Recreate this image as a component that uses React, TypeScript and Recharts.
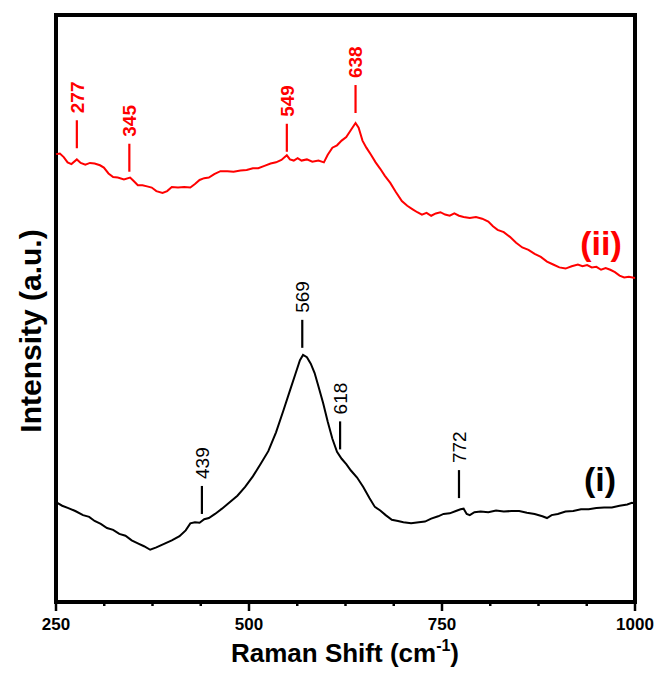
import React from "react";
import {
  ComposedChart,
  Line,
  Scatter,
  XAxis,
  YAxis,
  ReferenceArea,
} from "recharts";

const W = 659;
const H = 673;
const FONT = "Arial, 'Liberation Sans', sans-serif";

// Spectrum (i): Raman shift (cm-1) and intensity (a.u.)
const shiftI = [
  250, 258, 266, 275, 285, 293, 300, 308, 316, 324, 332, 340, 348, 356, 364, 372,
  380, 390, 400, 410, 418, 424, 430, 436, 442, 448, 456, 465, 475, 485, 495, 505,
  515, 525, 535, 545, 553, 560, 566, 570, 575, 580, 585, 590, 596, 602, 608, 614,
  620, 626, 632, 640, 648, 656, 663, 670, 677, 685, 693, 700, 710, 720, 728, 736,
  745, 752, 760, 768, 774, 778, 782, 786, 792, 800, 810, 820, 830, 840, 850, 860,
  870, 880, 886, 892, 900, 910, 920, 930, 940, 950, 960, 970, 980, 990, 996, 1000,
];
const intensityI = [
  17.0, 16.4, 16.0, 15.5, 14.8, 14.5, 13.8, 13.3, 12.6, 12.3, 11.6, 11.3, 10.5, 10.0, 9.5, 8.9,
  9.3, 9.9, 10.5, 11.2, 12.2, 13.4, 13.6, 13.5, 14.1, 14.3, 15.0, 15.9, 17.0, 18.1, 19.6, 21.4,
  23.5, 25.7, 28.9, 32.8, 36.0, 38.8, 41.2, 42.1, 41.7, 40.6, 39.0, 36.7, 33.9, 30.7, 27.8, 25.6,
  24.4, 23.5, 22.4, 21.2, 19.6, 17.7, 16.2, 15.6, 14.8, 14.0, 13.8, 13.6, 13.4, 13.6, 13.7, 14.2,
  14.6, 15.0, 15.1, 15.5, 15.8, 15.9, 15.0, 14.8, 15.3, 15.4, 15.3, 15.6, 15.4, 15.5, 15.5, 15.2,
  15.0, 14.6, 14.3, 14.8, 15.0, 15.4, 15.5, 15.8, 15.8, 16.0, 16.1, 16.1, 16.4, 16.6, 16.9, 16.8,
];

// Spectrum (ii), offset upward
const shiftII = [
  250, 255, 260, 265, 270, 277, 282, 288, 294, 300, 307, 312, 318, 324, 330, 338,
  346, 350, 356, 362, 368, 374, 380, 388, 394, 400, 408, 416, 424, 430, 436, 442,
  448, 455, 463, 472, 480, 489, 497, 505, 512, 520, 528, 535, 542, 549, 553, 558,
  563, 568, 575, 582, 590, 597, 602, 608, 614, 620, 626, 632, 638, 642, 647, 652,
  658, 664, 670, 676, 683, 690, 698, 705, 712, 718, 724, 730, 736, 742, 748, 754,
  760, 766, 772, 778, 786, 794, 802, 810, 816, 822, 830, 838, 846, 854, 862, 870,
  878, 886, 894, 902, 910, 918, 926, 932, 938, 944, 950, 956, 962, 968, 974, 980,
  986, 992, 1000,
];
const intensityII = [
  76.3, 76.4, 75.8, 74.9, 74.6, 75.4, 74.8, 74.5, 74.8, 74.7, 74.4, 74.0, 73.0, 72.4, 72.3, 72.0,
  72.3, 71.8, 71.0, 71.0, 70.8, 70.6, 70.0, 69.7, 70.0, 70.7, 70.6, 70.7, 70.6, 71.2, 71.9, 72.2,
  72.3, 72.9, 73.4, 73.4, 73.3, 73.5, 73.6, 73.9, 73.9, 74.3, 74.7, 74.9, 75.3, 76.1, 75.4, 75.2,
  75.6, 75.2, 75.4, 75.0, 75.2, 74.9, 76.2, 77.4, 77.8, 78.6, 79.2, 80.4, 81.6, 80.8, 78.6, 77.4,
  76.2, 74.9, 73.8, 72.6, 71.4, 69.9, 68.3, 67.5, 66.9, 66.4, 66.0, 66.3, 65.8, 66.2, 66.4, 66.0,
  65.8, 66.2, 65.8, 65.6, 65.4, 65.6, 65.3, 64.8, 64.0, 63.4, 63.0, 62.2, 61.2, 60.4, 60.0, 59.3,
  58.8, 58.0, 57.5, 57.0, 56.8, 57.2, 57.5, 57.2, 57.4, 57.0, 57.1, 56.6, 56.9, 56.6, 56.2, 55.6,
  55.3, 55.4, 55.2,
];

// Assigned bands and the level where each marker starts
const peaksI = [439, 569, 618, 772];
const peakLevelsI = [15.0, 43.3, 26.0, 17.7];
const peaksII = [277, 345, 549, 638];
const peakLevelsII = [77.3, 73.3, 76.7, 83.3];

const xTicks = [250, 312.5, 375, 437.5, 500, 562.5, 625, 687.5, 750, 812.5, 875, 937.5, 1000];
const majorTicks = [250, 500, 750, 1000];

const toRows = (xs: number[], ys: number[]) => xs.map((x, i) => ({ x, y: ys[i] }));

const rowsI = toRows(shiftI, intensityI);
const rowsII = toRows(shiftII, intensityII);
const markI = toRows(peaksI, peakLevelsI);
const markII = toRows(peaksII, peakLevelsII);

const ShiftTick = (props: any) => {
  const { x, y, payload } = props;
  const major = majorTicks.includes(payload.value);
  return (
    <g>
      <line x1={x} x2={x} y1={y} y2={y + (major ? 9 : 4)} stroke="#000" strokeWidth={2.5} />
      {major && (
        <text
          x={x}
          y={y + 28}
          textAnchor="middle"
          fontSize={17}
          fontWeight="bold"
          fontFamily={FONT}
          fill="#000"
        >
          {payload.value}
        </text>
      )}
    </g>
  );
};

// vertical marker with the band position written above it
const peakMarker = (color: string, weight: string) => (props: any) => {
  const { cx, cy, payload } = props;
  const top = cy - 28;
  return (
    <g>
      <line x1={cx} x2={cx} y1={cy} y2={top} stroke={color} strokeWidth={2.2} />
      <text
        transform={`translate(${cx},${top - 7}) rotate(-90)`}
        dy="0.36em"
        textAnchor="start"
        fontSize={19}
        fontWeight={weight}
        fontFamily={FONT}
        fill={color}
      >
        {payload.x}
      </text>
    </g>
  );
};

export default function App() {
  return (
    <div style={{ position: "absolute", left: 0, top: 0, width: W, height: H, background: "#fff" }}>
      <ComposedChart width={W} height={H} margin={{ top: 15, right: 24, left: 56, bottom: 0 }}>
        <XAxis
          dataKey="x"
          type="number"
          domain={[250, 1000]}
          ticks={xTicks}
          interval={0}
          tick={<ShiftTick />}
          tickLine={false}
          axisLine={false}
          tickSize={0}
          tickMargin={0}
          height={71}
        />
        <YAxis type="number" domain={[0, 100]} hide />
        <ReferenceArea
          x1={250}
          x2={1000}
          y1={0}
          y2={100}
          fill="none"
          stroke="#000"
          strokeWidth={4}
        />
        <Line
          data={rowsI}
          dataKey="y"
          stroke="#000"
          strokeWidth={2}
          dot={false}
          type="linear"
          isAnimationActive={false}
        />
        <Line
          data={rowsII}
          dataKey="y"
          stroke="#f00"
          strokeWidth={2}
          dot={false}
          type="linear"
          isAnimationActive={false}
        />
        <Scatter data={markI} dataKey="y" shape={peakMarker("#000", "normal")} isAnimationActive={false} />
        <Scatter data={markII} dataKey="y" shape={peakMarker("#f00", "bold")} isAnimationActive={false} />
      </ComposedChart>
      <svg
        width={W}
        height={H}
        style={{ position: "absolute", left: 0, top: 0, pointerEvents: "none" }}
      >
        <text
          transform="translate(30,331) rotate(-90)"
          textAnchor="middle"
          dy="0.36em"
          fontSize={30}
          fontWeight="bold"
          fontFamily={FONT}
        >
          Intensity (a.u.)
        </text>
        <text x={345} y={662} textAnchor="middle" fontSize={26} fontWeight="bold" fontFamily={FONT}>
          Raman Shift (cm
          <tspan dy={-11} fontSize={16}>-1</tspan>
          <tspan dy={11}>)</tspan>
        </text>
        <text x={600} y={491} textAnchor="middle" fontSize={34} fontWeight="bold" fontFamily={FONT}>
          (i)
        </text>
        <text x={601} y={255} textAnchor="middle" fontSize={34} fontWeight="bold" fontFamily={FONT} fill="#f00">
          (ii)
        </text>
      </svg>
    </div>
  );
}
